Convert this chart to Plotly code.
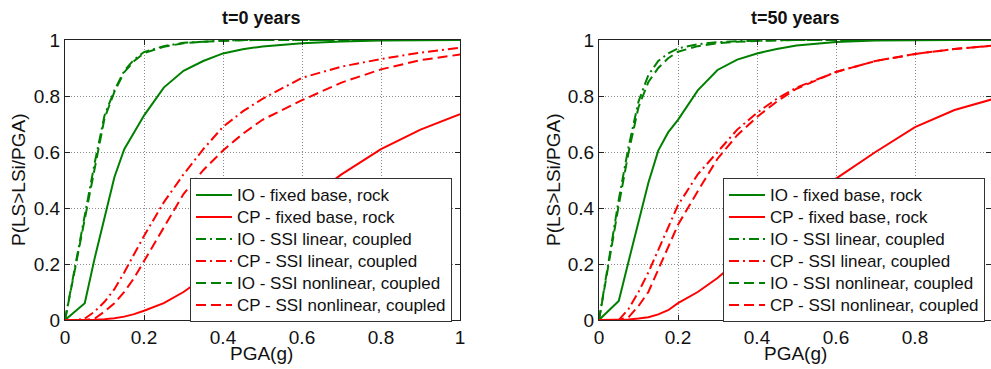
import plotly.graph_objects as go

# PGA sampling grid (g)
pga = [0, 0.025, 0.05, 0.075, 0.1, 0.125, 0.15, 0.175, 0.2, 0.25,
       0.3, 0.35, 0.4, 0.45, 0.5, 0.6, 0.7, 0.8, 0.9, 1.0]

# t = 0 years
io_fixed_t0 = [0, 0.03, 0.06, 0.22, 0.37, 0.51, 0.61, 0.67, 0.73, 0.83,
               0.89, 0.925, 0.952, 0.967, 0.977, 0.988, 0.995, 0.998, 1, 1]
cp_fixed_t0 = [0, 0, 0, 0.001, 0.003, 0.006, 0.012, 0.021, 0.033, 0.06,
               0.1, 0.15, 0.2, 0.255, 0.31, 0.415, 0.52, 0.61, 0.68, 0.735]
io_ssi_lin_t0 = [0, 0.19, 0.37, 0.56, 0.73, 0.82, 0.89, 0.93, 0.957, 0.978,
                 0.99, 0.995, 0.998, 1, 1, 1, 1, 1, 1, 1]
cp_ssi_lin_t0 = [0, 0, 0.005, 0.03, 0.065, 0.11, 0.17, 0.235, 0.3, 0.42,
                 0.52, 0.61, 0.69, 0.745, 0.79, 0.865, 0.905, 0.932, 0.955, 0.972]
io_ssi_nl_t0 = [0, 0.18, 0.36, 0.55, 0.72, 0.815, 0.885, 0.925, 0.953, 0.976,
                0.988, 0.994, 0.997, 0.999, 1, 1, 1, 1, 1, 1]
cp_ssi_nl_t0 = [0, 0, 0, 0.005, 0.03, 0.06, 0.1, 0.15, 0.21, 0.33,
                0.45, 0.535, 0.605, 0.665, 0.715, 0.785, 0.848, 0.895, 0.928, 0.948]

# t = 50 years
io_fixed_t50 = [0, 0.034, 0.068, 0.21, 0.35, 0.49, 0.605, 0.67, 0.715, 0.82,
                0.893, 0.93, 0.952, 0.968, 0.98, 0.993, 0.998, 1, 1, 1]
cp_fixed_t50 = [0, 0, 0, 0.002, 0.005, 0.01, 0.02, 0.035, 0.06, 0.1,
                0.15, 0.21, 0.27, 0.33, 0.39, 0.505, 0.6, 0.689, 0.75, 0.79]
io_ssi_lin_t50 = [0, 0.22, 0.43, 0.62, 0.78, 0.875, 0.925, 0.952, 0.97, 0.985,
                  0.992, 0.996, 0.998, 1, 1, 1, 1, 1, 1, 1]
cp_ssi_lin_t50 = [0, 0, 0, 0.04, 0.1, 0.17, 0.25, 0.33, 0.41, 0.52,
                  0.6, 0.68, 0.74, 0.79, 0.83, 0.886, 0.925, 0.95, 0.968, 0.98]
io_ssi_nl_t50 = [0, 0.21, 0.41, 0.6, 0.76, 0.85, 0.9, 0.935, 0.958, 0.978,
                 0.988, 0.994, 0.997, 0.999, 1, 1, 1, 1, 1, 1]
cp_ssi_nl_t50 = [0, 0, 0, 0.01, 0.05, 0.1, 0.18, 0.26, 0.34, 0.46,
                 0.576, 0.66, 0.725, 0.78, 0.826, 0.886, 0.925, 0.95, 0.968, 0.98]

series_names = ["IO - fixed base, rock", "CP - fixed base, rock",
                "IO - SSI linear, coupled", "CP - SSI linear, coupled",
                "IO - SSI nonlinear, coupled", "CP - SSI nonlinear, coupled"]
panel_titles = ["t=0 years", "t=50 years"]
tick_vals = [0, 0.2, 0.4, 0.6, 0.8, 1]

GREEN = "#008000"
RED = "#ff0000"
DASH = "10px,5px"
DASHDOT = "10px,4px,2px,4px"
styles = [(GREEN, "solid"), (RED, "solid"), (GREEN, DASHDOT),
          (RED, DASHDOT), (GREEN, DASH), (RED, DASH)]

panels = [
    [io_fixed_t0, cp_fixed_t0, io_ssi_lin_t0, cp_ssi_lin_t0, io_ssi_nl_t0, cp_ssi_nl_t0],
    [io_fixed_t50, cp_fixed_t50, io_ssi_lin_t50, cp_ssi_lin_t50, io_ssi_nl_t50, cp_ssi_nl_t50],
]

W, H = 991, 369
FONT = "Liberation Sans, Arial, sans-serif"
LEGEND_TEXT_PX = 17

fig = go.Figure()
for p, series in enumerate(panels):
    xa = "x" if p == 0 else "x2"
    ya = "y" if p == 0 else "y2"
    lg = "legend" if p == 0 else "legend2"
    for name, vals, (col, dash) in zip(series_names, series, styles):
        fig.add_trace(go.Scatter(
            x=pga, y=vals, mode="lines",
            name='<span style="font-size:%dpx">%s</span>' % (LEGEND_TEXT_PX, name),
            line=dict(color=col, width=2, dash=dash),
            xaxis=xa, yaxis=ya, legend=lg,
        ))

# plot areas in pixels: left, right, top, bottom
left_box = (65, 460, 40, 320)
right_box = (599, 991, 40, 320)
px_per_unit = 395.0


def axis_common():
    return dict(
        showline=True, linecolor="#222222", linewidth=1, mirror="ticks",
        ticks="inside", ticklen=5, tickcolor="#222222",
        showgrid=True, gridcolor="#8a8a8a", griddash="1px,2px", gridwidth=1,
        zeroline=False, tickvals=tick_vals, automargin=False,
        tickfont=dict(family=FONT, size=19, color="#111111"),
    )


def xdom(b):
    return [b[0] / W, b[1] / W]


def ydom(b):
    return [1 - b[3] / H, 1 - b[2] / H]


right_xmax = (right_box[1] - right_box[0]) / px_per_unit

legend_style = dict(
    y=1 - 178 / H, xanchor="left", yanchor="top",
    bgcolor="white", bordercolor="#333333", borderwidth=1,
    font=dict(family=FONT, size=14.6, color="#111111"), itemwidth=36,
)

fig.update_layout(
    width=W, height=H,
    margin=dict(l=0, r=0, t=0, b=0, pad=0, autoexpand=False),
    paper_bgcolor="white", plot_bgcolor="white",
    font=dict(family=FONT, color="#111111"),
    xaxis=dict(domain=xdom(left_box), range=[0, 1], anchor="y", **axis_common()),
    yaxis=dict(domain=ydom(left_box), range=[0, 1], anchor="x", **axis_common()),
    xaxis2=dict(domain=xdom(right_box), range=[0, right_xmax], anchor="y2", **axis_common()),
    yaxis2=dict(domain=ydom(right_box), range=[0, 1], anchor="x2", **axis_common()),
    legend=dict(x=190 / W, **legend_style),
    legend2=dict(x=723 / W, **legend_style),
)

# titles and axis labels
title_centers = [261, 795]
ylabel_x = [18, 553]
for p in range(2):
    fig.add_annotation(
        text="<b>" + panel_titles[p] + "</b>", xref="paper", yref="paper",
        x=title_centers[p] / W, y=1 - 18 / H, showarrow=False,
        font=dict(family=FONT, size=18, color="#111111"),
        xanchor="center", yanchor="middle",
    )
    fig.add_annotation(
        text="PGA(g)", xref="paper", yref="paper",
        x=title_centers[p] / W, y=1 - 353 / H, showarrow=False,
        font=dict(family=FONT, size=19, color="#111111"),
        xanchor="center", yanchor="middle",
    )
    fig.add_annotation(
        text="P(LS>LSi/PGA)", xref="paper", yref="paper",
        x=ylabel_x[p] / W, y=1 - 180 / H, showarrow=False, textangle=-90,
        font=dict(family=FONT, size=19, color="#111111"),
        xanchor="center", yanchor="middle",
    )

fig.write_html("out.html")
